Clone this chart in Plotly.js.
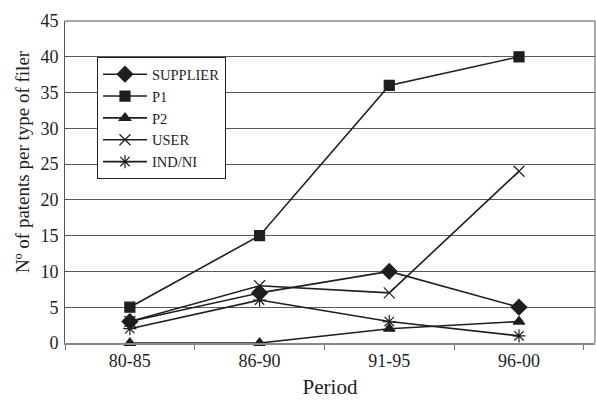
<!DOCTYPE html>
<html>
<head>
<meta charset="utf-8">
<script src="https://cdn.plot.ly/plotly-3.0.1.min.js"></script>
<style>
html,body{margin:0;padding:0;background:#fff;}
#chart{width:596px;height:402px;}
</style>
</head>
<body>
<div id="chart"></div>
<script>
var periods = ["80-85", "86-90", "91-95", "96-00"];
var supplier = [3, 7, 10, 5];
var p1 = [5, 15, 36, 40];
var p2 = [0, 0, 2, 3];
var user = [3, 8, 7, 24];
var indni = [2, 6, 3, 1];
var seriesNames = ["SUPPLIER", "P1", "P2", "USER", "IND/NI"];
var yTitle = "Nº of patents per type of filer";
var xTitle = "Period";

var col = "#1e1e1e";
function tr(name, y, sym, size) {
  return {
    x: periods, y: y, name: name, type: "scatter", mode: "lines+markers",
    line: {color: col, width: 1.6},
    marker: {symbol: sym, size: size, color: col, line: {color: col, width: 1.2}},
    cliponaxis: false
  };
}
var data = [
  tr(seriesNames[0], supplier, "diamond", 12),
  tr(seriesNames[1], p1, "square", 10),
  tr(seriesNames[2], p2, "triangle-up", 10),
  tr(seriesNames[3], user, "x-thin-open", 11),
  tr(seriesNames[4], indni, "asterisk-open", 11)
];
var fam = "Liberation Serif";
var layout = {
  width: 596, height: 402,
  margin: {l: 65, r: 1, t: 21, b: 59},
  paper_bgcolor: "#fff", plot_bgcolor: "#fff",
  font: {family: fam, color: col, size: 16},
  showlegend: true,
  legend: {
    x: 0.06, y: 0.888, xanchor: "left", yanchor: "top",
    bgcolor: "#fff", bordercolor: "#222", borderwidth: 1.2,
    font: {family: fam, size: 14.5, color: col},
    tracegroupgap: 0, itemwidth: 44
  },
  xaxis: {
    type: "category", range: [-0.5, 3.586],
    tickson: "boundaries", ticks: "outside", ticklen: 5, tickcolor: "#777",
    showline: true, linecolor: "#888", linewidth: 2,
    showgrid: false, zeroline: false,
    tickfont: {family: fam, size: 18, color: col},
    title: {text: xTitle, font: {family: fam, size: 21, color: col}, standoff: 10}
  },
  yaxis: {
    range: [0, 45], dtick: 5, tick0: 0,
    ticks: "inside", ticklen: 5, tickcolor: "#555",
    ticklabelstandoff: 2,
    showline: true, linecolor: "#555", linewidth: 1,
    showgrid: true, gridcolor: "#5a5a5a", gridwidth: 1,
    zeroline: false,
    tickfont: {family: fam, size: 18, color: col}
  },
  annotations: [{
    text: yTitle, textangle: -90, showarrow: false,
    xref: "paper", yref: "paper", x: -0.0811, y: 0.562,
    xanchor: "center", yanchor: "middle",
    font: {family: fam, size: 19, color: col}
  }],
  shapes: [{type: "line", xref: "paper", yref: "paper", x0: 1, x1: 1, y0: 0, y1: 1, line: {color: "#555", width: 1}},
           {type: "line", xref: "paper", yref: "paper", x0: 0, x1: 1, y0: 1, y1: 1, line: {color: "#555", width: 1}}]
};
Plotly.newPlot("chart", data, layout, {displayModeBar: false, staticPlot: true});
</script>
</body>
</html>
